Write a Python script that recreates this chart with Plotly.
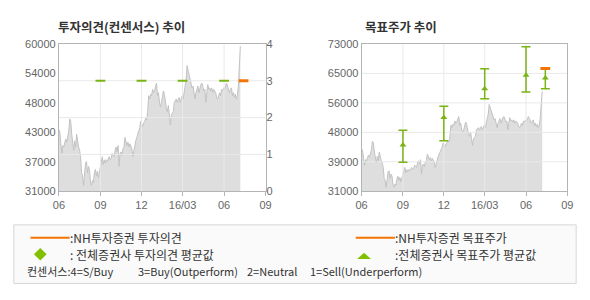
import plotly.graph_objects as go
import pandas as pd

# ---------------- data ----------------
price = [43150, 42550, 40350, 38450, 40000, 39700, 40650, 41300, 40650, 41600, 42850, 45250, 44750,
         42200, 39700, 39050, 40950, 39700, 42200, 40350, 39700, 39050, 37800, 34650, 34050, 32150,
         34650, 36550, 36850, 34650, 35900, 35300, 32750, 32150, 33100, 32750, 34650, 35300, 34050,
         34950, 33700, 34650, 35900, 36550, 37800, 36250, 37200, 36550, 37200, 36850, 37500, 37800,
         37200, 37500, 38450, 38100, 37800, 39050, 39700, 38750, 40000, 35900, 38450, 38750, 38100,
         39400, 39700, 41600, 40950, 40000, 40650, 39700, 40350, 39700, 39400, 37800, 39050, 40350,
         40950, 41600, 42550, 42850, 43500, 44750, 44100, 43800, 44450, 44750, 45350, 45050, 46650,
         49800, 49150, 50100, 49800, 51050, 50400, 50750, 51700, 52300, 49800, 50400, 48500, 47600,
         48500, 49800, 50750, 50100, 48500, 47250, 46650, 47900, 46000, 44100, 46000, 46300, 46650,
         48500, 48850, 49150, 48500, 49150, 49450, 48500, 49150, 49800, 49150, 51050, 51700, 52950,
         55750, 54850, 53900, 52950, 52000, 51350, 51700, 50750, 49150, 50400, 51050, 51700, 50400,
         51350, 52000, 52300, 51700, 50750, 51050, 48500, 50400, 52000, 51050, 51350, 50750, 51350,
         50400, 51050, 50750, 50400, 49450, 49150, 49800, 50400, 49800, 51050, 50750, 51350, 51050,
         51700, 52300, 51700, 51050, 50400, 51050, 51350, 49800, 50400, 49450, 50100, 49150, 49800,
         51700, 56100, 59550]
price_start = "2015-06-01"
price_end = "2016-07-07"

cons_op_dates = ["2015-09-01", "2015-12-01", "2016-03-01", "2016-06-01"]
cons_opinion = [3, 3, 3, 3]
nh_op_dates = ["2016-07-14"]
nh_opinion = [3]

tp_dates = ["2015-09-01", "2015-12-01", "2016-03-01", "2016-06-01", "2016-07-14"]
tp_avg = [44200, 52000, 60200, 64100, 63300]
tp_high = [48400, 55200, 65900, 72200, 66100]
tp_low = [39300, 45400, 57400, 59300, 60200]
nh_tp_dates = ["2016-07-14"]
nh_tp = [66000]

x_range = ["2015-06-01", "2016-09-01"]
x_tickvals = ["2015-06-01", "2015-09-01", "2015-12-01", "2016-03-01", "2016-06-01", "2016-09-01"]
x_ticktext = ["06", "09", "12", "16/03", "06", "09"]
left_yvals = [31000, 36800, 42600, 48400, 54200, 60000]
left_ytext = ["31000", "37000", "43000", "48000", "54000", "60000"]
op_vals = [0, 1, 2, 3, 4]
right_yvals = [31000, 39400, 47800, 56200, 64600, 73000]
right_ytext = ["31000", "39000", "48000", "56000", "65000", "73000"]

# ---------------- styles ----------------
W, H = 590, 300
GREEN = "#78b414"
ORANGE = "#f27405"
GRID = "#e9e9e9"
BORDER = "#b4b4b4"
FILL = "#dedede"
TICKFONT = dict(family="Liberation Sans, Arial, sans-serif", size=11, color="#666666")
KFONT = "Noto Sans CJK KR, sans-serif"

def px(x):
    return x / W

def py(y):
    return 1 - y / H

dates = pd.date_range(price_start, price_end, periods=len(price))

fig = go.Figure()

# ---- left chart ----
fig.add_trace(go.Scatter(x=dates, y=price, xaxis="x", yaxis="y", mode="lines",
                         line=dict(color="#c2c2c2", width=1), fill="tozeroy", fillcolor=FILL,
                         hoverinfo="skip"))
gx, gy = [], []
for v in op_vals[1:-1]:
    gx += [x_range[0], x_range[1], None]
    gy += [v, v, None]
for d in x_tickvals[1:-1]:
    gx += [d, d, None]
    gy += [op_vals[0], op_vals[-1], None]
fig.add_trace(go.Scatter(x=gx, y=gy, xaxis="x", yaxis="y2", mode="lines",
                         line=dict(color=GRID, width=1), hoverinfo="skip"))
fig.add_trace(go.Scatter(x=cons_op_dates, y=cons_opinion, xaxis="x", yaxis="y2", mode="markers",
                         marker=dict(symbol="line-ew", size=7, line=dict(color=GREEN, width=2)),
                         hoverinfo="skip"))
fig.add_trace(go.Scatter(x=nh_op_dates, y=nh_opinion, xaxis="x", yaxis="y2", mode="markers",
                         marker=dict(symbol="line-ew", size=7, line=dict(color=ORANGE, width=3)),
                         hoverinfo="skip"))

# ---- right chart ----
fig.add_trace(go.Scatter(x=dates, y=price, xaxis="x2", yaxis="y3", mode="lines",
                         line=dict(color="#c2c2c2", width=1), fill="tozeroy", fillcolor=FILL,
                         hoverinfo="skip"))
gx, gy = [], []
for v in right_yvals[1:-1]:
    gx += [x_range[0], x_range[1], None]
    gy += [v, v, None]
for d in x_tickvals[1:-1]:
    gx += [d, d, None]
    gy += [right_yvals[0], right_yvals[-1], None]
fig.add_trace(go.Scatter(x=gx, y=gy, xaxis="x2", yaxis="y3", mode="lines",
                         line=dict(color=GRID, width=1), hoverinfo="skip"))
fig.add_trace(go.Scatter(x=tp_dates, y=tp_avg, xaxis="x2", yaxis="y3", mode="markers",
                         marker=dict(symbol="triangle-up", size=6, color=GREEN),
                         error_y=dict(type="data", symmetric=False,
                                      array=[h - a for h, a in zip(tp_high, tp_avg)],
                                      arrayminus=[a - l for a, l in zip(tp_avg, tp_low)],
                                      color=GREEN, thickness=1.5, width=4.5),
                         hoverinfo="skip"))
fig.add_trace(go.Scatter(x=nh_tp_dates, y=nh_tp, xaxis="x2", yaxis="y3", mode="markers",
                         marker=dict(symbol="line-ew", size=7, line=dict(color=ORANGE, width=3)),
                         hoverinfo="skip"))

xcommon = dict(type="date", range=x_range, tickvals=x_tickvals, ticktext=x_ticktext,
               showgrid=False, zeroline=False, showline=True, mirror=True, linecolor=BORDER,
               linewidth=1, ticks="outside", ticklen=4, tickcolor=BORDER, tickfont=TICKFONT,
               fixedrange=True)
y_dom = [py(193), py(39.5)]

fig.update_layout(
    width=W, height=H, margin=dict(l=0, r=0, t=0, b=0),
    paper_bgcolor="white", plot_bgcolor="white", showlegend=False,
    xaxis=dict(domain=[px(54), px(265)], anchor="y", **xcommon),
    yaxis=dict(domain=y_dom, range=[left_yvals[0], left_yvals[-1]], tickvals=left_yvals,
               ticktext=left_ytext, showgrid=False, zeroline=False, showline=True, mirror=True,
               linecolor=BORDER, tickfont=TICKFONT, ticks="", fixedrange=True),
    yaxis2=dict(overlaying="y", side="right", anchor="x", range=[op_vals[0], op_vals[-1]],
                tickvals=op_vals, showgrid=False, zeroline=False, showline=False,
                tickfont=TICKFONT, ticks="", fixedrange=True),
    xaxis2=dict(domain=[px(363), px(573)], anchor="y3", **xcommon),
    yaxis3=dict(domain=y_dom, anchor="x2", range=[right_yvals[0], right_yvals[-1]],
                tickvals=right_yvals, ticktext=right_ytext, showgrid=False, zeroline=False,
                showline=True, mirror=True, linecolor=BORDER, tickfont=TICKFONT, ticks="",
                fixedrange=True),
)

# ---- titles ----
fig.add_annotation(x=px(51), y=py(21), xref="paper", yref="paper", xanchor="left", yanchor="middle",
                   text="<b>투자의견(컨센서스) 추이</b>", showarrow=False,
                   font=dict(family=KFONT, size=12.5, color="#333333"))
fig.add_annotation(x=px(364), y=py(21), xref="paper", yref="paper", xanchor="left", yanchor="middle",
                   text="<b>목표주가 추이</b>", showarrow=False,
                   font=dict(family=KFONT, size=12.5, color="#333333"))

# ---- legend box ----
fig.add_shape(type="rect", xref="paper", yref="paper", x0=px(8), x1=px(582), y0=py(289), y1=py(228),
              fillcolor="#fafafa", line=dict(color="#d6d6d6", width=1), layer="below")
fig.add_shape(type="line", xref="paper", yref="paper", x0=px(25), x1=px(65), y0=py(241.5), y1=py(241.5),
              line=dict(color=ORANGE, width=2))
fig.add_shape(type="line", xref="paper", yref="paper", x0=px(357), x1=px(397), y0=py(241.5), y1=py(241.5),
              line=dict(color=ORANGE, width=2))
cx, cy = 35, 258.5
fig.add_shape(type="path", xref="paper", yref="paper",
              path=f"M {px(cx-6.5)} {py(cy)} L {px(cx)} {py(cy-6.5)} L {px(cx+6.5)} {py(cy)} L {px(cx)} {py(cy+6.5)} Z",
              fillcolor="#80c000", line=dict(width=0))
tx, ty = 365.5, 260.5
fig.add_shape(type="path", xref="paper", yref="paper",
              path=f"M {px(tx-7)} {py(ty+3)} L {px(tx)} {py(ty-3.5)} L {px(tx+7)} {py(ty+3)} Z",
              fillcolor="#80c000", line=dict(width=0))

LFONT = dict(family=KFONT, size=12, color="#333333")
SFONT = dict(family=KFONT, size=11, color="#333333")
legend_texts = [
    (63, 241.5, ":NH투자증권 투자의견", LFONT),
    (63, 258.5, ": 전체증권사 투자의견 평균값", LFONT),
    (395, 241.5, ":NH투자증권 목표주가", LFONT),
    (395, 258.5, ":전체증권사 목표주가 평균값", LFONT),
    (19, 276.5, "컨센서스:4=S/Buy", SFONT),
    (133, 276.5, "3=Buy(Outperform)", SFONT),
    (244, 276.5, "2=Neutral", SFONT),
    (308, 276.5, "1=Sell(Underperform)", SFONT),
]
for x, y, t, f in legend_texts:
    fig.add_annotation(x=px(x), y=py(y), xref="paper", yref="paper", xanchor="left", yanchor="middle",
                       text=t, showarrow=False, font=f)

fig.write_html("out.html")
